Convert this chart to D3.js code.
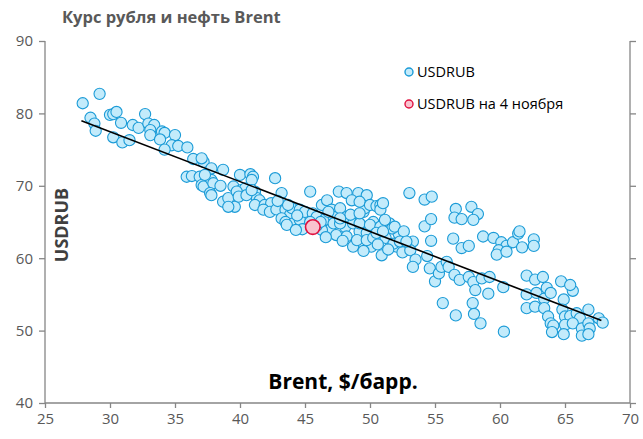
<!DOCTYPE html>
<html>
<head>
<meta charset="utf-8">
<script src="https://d3js.org/d3.v7.min.js"></script>
<style>
  body { margin: 0; background: #fff; }
  text { font-family: "Open Sans", "Noto Sans", sans-serif; }
</style>
</head>
<body>
<svg width="643" height="439"></svg>
<script>
// Brent ($/bbl) and USDRUB
var brent = [
  27.9,29.2,28.5,28.8,28.9,30.0,30.25,30.5,30.85,30.25,30.95,31.5,31.75,32.2,32.7,32.95,33.4,33.1,33.1,34.0,34.2,33.85,35.0,34.75,35.25,34.2,35.95,
  36.4,37.2,37.05,37.8,38.7,35.9,36.3,36.9,37.4,37.05,37.2,37.8,37.95,38.5,37.7,37.8,38.7,39.6,39.1,39.1,40.0,40.8,41.0,39.5,40.1,40.4,40.9,41.15,41.3,39.75,39.9,40.5,40.9,41.5,41.15,41.9,37.3,
  42.4,42.7,43.2,41.8,42.3,42.8,43.5,43.85,43.2,43.5,44.1,44.6,44.0,44.6,45.0,43.7,42.9,43.6,44.4,45.4,44.8,44.3,
  45.6,45.9,46.3,46.7,47.05,46.5,47.2,47.7,48.2,48.85,49.5,49.6,47.6,48.2,49.1,49.75,48.6,49.2,50.0,50.5,50.8,46.9,46.3,47.4,48.1,48.7,49.2,49.75,48.7,50.1,50.9,50.25,51.5,52.2,52.05,48.2,49.0,49.75,50.25,49.2,50.0,50.8,51.15,51.7,45.4,47.2,47.7,48.5,49.2,47.7,46.8,45.9,46.2,
  50.5,51.2,51.8,49.5,50.6,51.4,52.5,47.9,46.6,
  50.8,51.9,52.6,51.0,51.0,53.3,53.1,53.5,53.3,54.4,54.6,55.0,55.3,55.5,55.9,52.3,52.8,53.03,54.2,54.75,54.2,54.7,54.7,
  56.6,57.8,58.3,56.5,57.05,57.95,56.4,57.05,57.6,58.7,59.5,60.1,60.5,59.9,59.75,60.5,61.0,61.4,61.5,61.7,62.6,62.6,56.05,56.5,56.9,57.6,57.95,58.1,58.6,59.2,59.1,60.25,55.6,56.6,57.9,58.0,58.5,60.3,
  62.05,62.7,63.3,62.05,62.8,63.4,63.6,63.9,64.7,65.6,64.9,62.05,62.7,63.4,63.7,63.9,64.1,64.8,65.0,65.4,65.9,66.15,65.0,65.6,66.3,66.8,66.9,67.6,67.9,66.8,66.3,66.8,64.0,64.9,65.4
];
var usdrub = [
  81.4,82.7,79.4,78.6,77.6,79.8,79.9,80.2,78.7,76.7,76.0,76.3,78.4,78.0,79.9,78.6,78.4,77.7,77.0,77.5,77.3,76.4,77.0,75.6,75.5,75.0,75.3,
  73.7,73.3,73.8,72.4,72.2,71.25,71.35,71.25,70.8,70.1,69.9,70.8,70.35,70.0,69.0,68.7,67.8,67.1,68.3,67.1,71.5,71.6,71.25,69.9,69.4,69.65,70.8,69.2,68.3,69.2,68.5,68.7,69.4,68.0,67.35,67.35,71.5,
  67.6,71.05,69.0,66.7,66.4,66.75,66.7,66.0,65.5,65.0,64.8,65.3,66.9,66.7,66.4,67.35,67.9,64.6,65.9,69.2,64.0,63.9,
  66.2,65.7,67.35,68.0,66.7,65.3,65.7,66.9,65.7,65.5,66.4,66.9,69.2,69.0,69.0,68.7,68.0,67.8,67.35,67.2,67.35,63.9,63.9,63.2,64.3,64.8,63.7,63.5,61.6,61.6,60.4,65.0,64.8,63.4,61.6,63.0,62.5,62.5,62.8,64.8,64.6,64.35,65.3,64.1,65.0,64.8,64.8,66.0,66.2,65.5,66.4,64.5,65.0,
  63.5,62.8,62.0,61.0,61.9,61.2,60.8,62.4,62.9,
  66.7,64.35,63.7,63.7,67.6,62.3,61.1,59.8,58.8,60.3,58.6,56.8,57.9,58.8,59.5,62.3,62.3,69.0,68.1,68.5,64.4,65.4,62.4,
  66.8,67.1,66.1,65.6,65.4,65.3,62.7,61.4,61.7,63.0,62.8,62.2,61.7,61.1,60.5,60.9,62.2,63.4,63.7,61.5,62.6,61.7,58.8,57.7,57.0,57.4,56.7,55.6,57.2,57.4,55.1,56.0,53.8,52.1,53.8,52.3,51.0,49.85,
  57.6,57.05,57.4,55.0,55.2,54.4,55.9,55.2,56.8,55.5,54.3,53.1,53.3,53.1,51.95,51.0,50.7,52.9,51.95,52.0,52.4,51.7,50.8,51.0,50.3,51.0,50.3,51.7,51.1,52.9,49.3,49.5,49.8,49.5,56.3
];
// 4 November point
var novBrent = [45.6];
var novRub = [64.3];
// trend line ends
var trendX = [27.8, 67.8];
var trendY = [79.0, 51.4];

var xTicks = [25,30,35,40,45,50,55,60,65,70];
var yTicks = [40,50,60,70,80,90];

var svg = d3.select("svg");
var x = d3.scaleLinear().domain([25,70]).range([45,630]);
var y = d3.scaleLinear().domain([40,90]).range([403,41]);

var axisColor = "#868686";
var labelColor = "#595959";

var gx = svg.append("g").attr("transform","translate(0,403)")
  .call(d3.axisBottom(x).tickValues(xTicks).tickSize(5).tickPadding(5));
var gy = svg.append("g").attr("transform","translate(45,0)")
  .call(d3.axisLeft(y).tickValues(yTicks).tickSize(6).tickPadding(6));
var gr = svg.append("g").attr("transform","translate(630,0)")
  .call(d3.axisRight(y).tickValues(yTicks).tickSize(6).tickFormat(""));

[gx,gy,gr].forEach(function(g) {
  g.select(".domain").attr("stroke",axisColor).attr("stroke-width",1.3);
  g.selectAll(".tick line").attr("stroke",axisColor).attr("stroke-width",1.3);
  g.selectAll(".tick text").attr("fill",labelColor)
    .style("font-family","Open Sans").style("font-size","15px");
});
// domain path has outer ticks by default; remove them
gx.select(".domain").attr("d","M45,0H630");
gy.select(".domain").attr("d","M0,41V403");
gr.select(".domain").attr("d","M0,41V403");

// points
var pts = brent.map(function(b,i){ return [b, usdrub[i]]; });
svg.append("g").selectAll("circle").data(pts).enter().append("circle")
  .attr("cx", function(d){ return x(d[0]); })
  .attr("cy", function(d){ return y(d[1]); })
  .attr("r", 5.6)
  .attr("fill","#c3ebfb")
  .attr("stroke","#1b9bd7")
  .attr("stroke-width",1.1);

// trend line
svg.append("line")
  .attr("x1", x(trendX[0])).attr("y1", y(trendY[0]))
  .attr("x2", x(trendX[1])).attr("y2", y(trendY[1]))
  .attr("stroke","#000").attr("stroke-width",1.6);

// 4 November
svg.append("g").selectAll("circle").data(novBrent).enter().append("circle")
  .attr("cx", function(d){ return x(d); })
  .attr("cy", function(d,i){ return y(novRub[i]); })
  .attr("r", 7.3)
  .attr("fill","#f9c3cf")
  .attr("stroke","#e0103f")
  .attr("stroke-width",1.6);

// titles
svg.append("text").text("Курс рубля и нефть Brent")
  .attr("x",62).attr("y",23)
  .attr("fill",labelColor)
  .style("font-size","16.5px").style("font-weight","bold");

svg.append("text").text("USDRUB")
  .attr("transform","translate(68,225) rotate(-90)")
  .attr("text-anchor","middle")
  .attr("fill","#404040")
  .style("font-size","18px").style("font-weight","bold");

svg.append("text").text("Brent, $/барр.")
  .attr("x",343).attr("y",389)
  .attr("text-anchor","middle")
  .attr("fill","#000")
  .style("font-size","21px").style("font-weight","bold");

// legend
var legend = [
  {label:"USDRUB", fill:"#c3ebfb", stroke:"#1b9bd7", y:72},
  {label:"USDRUB на 4 ноября", fill:"#f9c3cf", stroke:"#e0103f", y:104}
];
var lg = svg.append("g").selectAll("g").data(legend).enter().append("g");
lg.append("circle").attr("cx",409).attr("cy",function(d){return d.y;}).attr("r",4)
  .attr("fill",function(d){return d.fill;}).attr("stroke",function(d){return d.stroke;}).attr("stroke-width",1.4);
lg.append("text").text(function(d){return d.label;})
  .attr("x",417).attr("y",function(d){return d.y+5;})
  .attr("fill","#000").style("font-size","14.5px");
</script>
</body>
</html>
